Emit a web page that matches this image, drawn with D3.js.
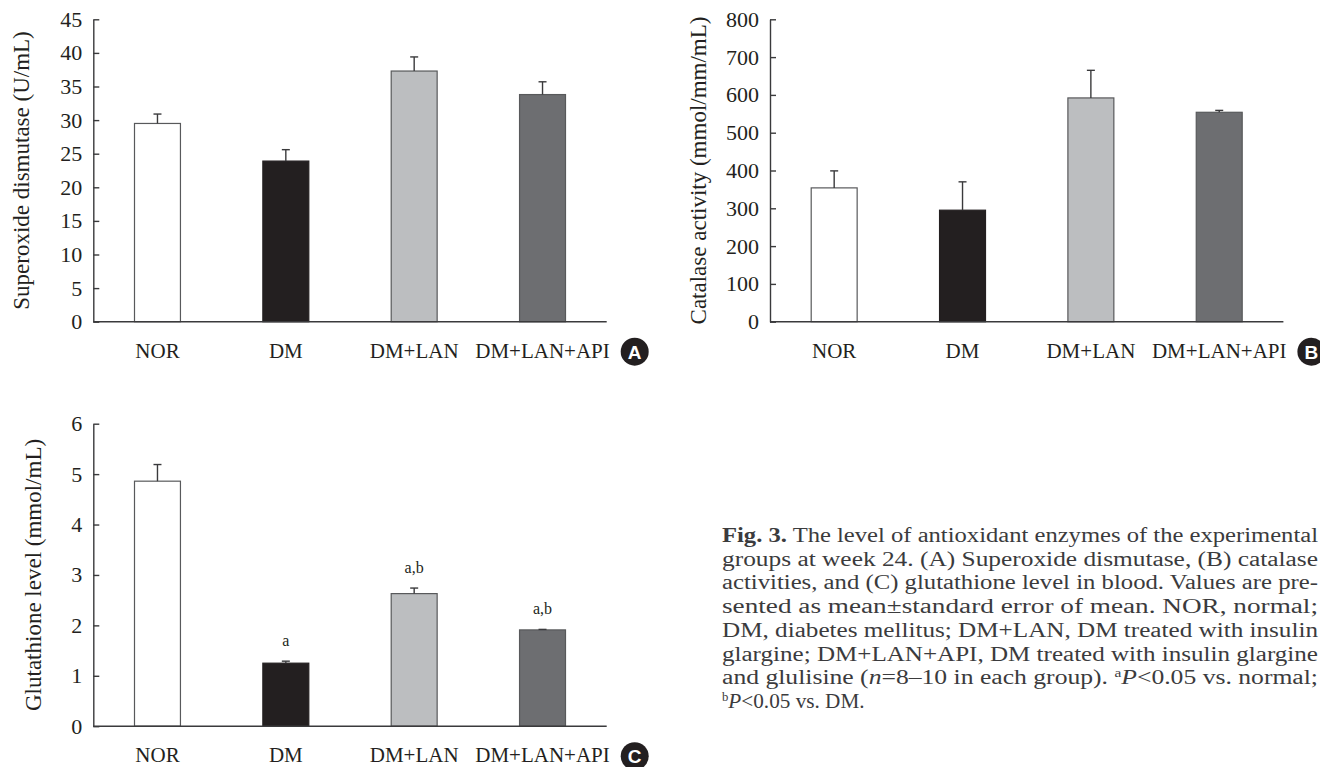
<!DOCTYPE html>
<html>
<head>
<meta charset="utf-8">
<title>Fig. 3 antioxidant enzymes</title>
<style>
  html, body { margin: 0; padding: 0; background: #fff; }
  svg { display: block; font-family: "Liberation Serif", "Times New Roman", serif; }
  .axis path, .axis line { stroke: #3a3a3c; stroke-width: 1.4px; }
  .axis text { fill: #231f20; font-size: 22px; font-family: "Liberation Serif", serif; }
  .xaxis text { font-size: 21px; }
  .ytitle { fill: #231f20; font-size: 23px; text-anchor: middle; }
  .sig { fill: #231f20; font-size: 16px; text-anchor: middle; }
  .caption { fill: #3b3b3d; font-size: 20px; }
</style>
</head>
<body>
<svg width="1320" height="767"></svg>
<script src="https://d3js.org/d3.v7.min.js"></script>
<script>
// groups and bar colours
const groups = ['NOR', 'DM', 'DM+LAN', 'DM+LAN+API'];
const fills = ['#ffffff', '#231f20', '#bcbec0', '#6d6e71'];

// (A) superoxide dismutase, U/mL
const sodMean = [29.5, 23.9, 37.3, 33.8];
const sodErr = [1.4, 1.7, 2.1, 1.9];
const sodTicks = [0, 5, 10, 15, 20, 25, 30, 35, 40, 45];

// (B) catalase activity
const catMean = [354, 295, 592, 554];
const catErr = [45, 75, 73, 5];
const catTicks = [0, 100, 200, 300, 400, 500, 600, 700, 800];

// (C) glutathione level
const gshMean = [4.86, 1.25, 2.63, 1.91];
const gshErr = [0.33, 0.04, 0.11, 0.01];
const gshSig = ['', 'a', 'a,b', 'a,b'];
const gshTicks = [0, 1, 2, 3, 4, 5, 6];

const captionLines = [
  [['Fig. 3.', 'bold'], [' The level of antioxidant enzymes of the experimental']],
  [['groups at week 24. (A) Superoxide dismutase, (B) catalase']],
  [['activities, and (C) glutathione level in blood. Values are pre-']],
  [['sented as mean\u00b1standard error of mean. NOR, normal;']],
  [['DM, diabetes mellitus; DM+LAN, DM treated with insulin']],
  [['glargine; DM+LAN+API, DM treated with insulin glargine']],
  [['and glulisine ('], ['n', 'italic'], ['=8\u201310 in each group). '], ['a', 'sup'], ['P', 'italic'], ['<0.05 vs. normal;']],
  [['b', 'sup'], ['P', 'italic'], ['<0.05 vs. DM.']]
];

const svg = d3.select('svg');

function drawPanel(p) {
  const g = svg.append('g');
  const x = d3.scaleBand().domain(groups)
    .range([p.left, p.right]).paddingInner(0.642).paddingOuter(0.321);
  const y = d3.scaleLinear().domain([0, p.max]).range([p.bottom, p.top]);

  // bars
  g.selectAll('rect.bar').data(groups).enter().append('rect')
    .attr('class', 'bar')
    .attr('x', d => x(d))
    .attr('width', x.bandwidth())
    .attr('y', (d, i) => y(p.mean[i]))
    .attr('height', (d, i) => y(0) - y(p.mean[i]))
    .attr('fill', (d, i) => fills[i])
    .attr('stroke', (d, i) => i === 1 ? '#231f20' : '#58595b')
    .attr('stroke-width', 1.2);

  // upper error bars
  const eb = g.selectAll('g.err').data(groups).enter().append('g').attr('class', 'err')
    .attr('stroke', '#3a3a3c').attr('stroke-width', 1.4);
  eb.append('line')
    .attr('x1', d => x(d) + x.bandwidth() / 2).attr('x2', d => x(d) + x.bandwidth() / 2)
    .attr('y1', (d, i) => y(p.mean[i])).attr('y2', (d, i) => y(p.mean[i] + p.err[i]));
  eb.append('line')
    .attr('x1', d => x(d) + x.bandwidth() / 2 - 4).attr('x2', d => x(d) + x.bandwidth() / 2 + 4)
    .attr('y1', (d, i) => y(p.mean[i] + p.err[i])).attr('y2', (d, i) => y(p.mean[i] + p.err[i]));

  // significance letters
  if (p.sig) {
    g.selectAll('text.sig').data(groups).enter().append('text')
      .attr('class', 'sig')
      .attr('x', d => x(d) + x.bandwidth() / 2)
      .attr('y', (d, i) => y(p.mean[i] + p.err[i]) - 15)
      .text((d, i) => p.sig[i]);
  }

  // y axis, ticks pointing inward
  g.append('g').attr('class', 'axis')
    .attr('transform', `translate(${p.left},0)`)
    .call(d3.axisLeft(y).tickValues(p.ticks).tickFormat(d3.format('d'))
      .tickSizeInner(-6).tickSizeOuter(0).tickPadding(11));

  // x axis
  g.append('g').attr('class', 'axis xaxis')
    .attr('transform', `translate(0,${p.bottom})`)
    .call(d3.axisBottom(x).tickSize(0).tickPadding(21))
    .call(a => a.select('.domain').attr('d', `M${p.left},0H${p.right}`));

  // y title
  g.append('text').attr('class', 'ytitle')
    .attr('transform', `translate(${p.left - p.titleOff},${(p.top + p.bottom) / 2}) rotate(-90)`)
    .text(p.title);

  // panel badge
  const bx = p.right + 28, by = p.bottom + 30;
  g.append('circle').attr('cx', bx).attr('cy', by).attr('r', 14).attr('fill', '#231f20');
  g.append('text').attr('x', bx).attr('y', by + 7)
    .attr('text-anchor', 'middle').attr('fill', '#fff')
    .attr('font-family', '"Liberation Sans", Arial, sans-serif')
    .attr('font-weight', 'bold').attr('font-size', 19)
    .text(p.badge);
}

drawPanel({ left: 93.3, right: 606.7, top: 19.3, bottom: 321.7, max: 45,
  mean: sodMean, err: sodErr, ticks: sodTicks, titleOff: 64,
  title: 'Superoxide dismutase (U/mL)', badge: 'A' });

drawPanel({ left: 770, right: 1283.4, top: 19.3, bottom: 321.7, max: 800,
  mean: catMean, err: catErr, ticks: catTicks, titleOff: 64,
  title: 'Catalase activity (mmol/mm/mL)', badge: 'B' });

drawPanel({ left: 93.3, right: 606.7, top: 423.7, bottom: 726.2, max: 6,
  mean: gshMean, err: gshErr, ticks: gshTicks, sig: gshSig, titleOff: 52,
  title: 'Glutathione level (mmol/mL)', badge: 'C' });

// caption, justified lines kept inside the right edge
const capLeft = 722, capWidth = 596, capTop = 542, capStep = 23.7;
captionLines.forEach((parts, li) => {
  const t = svg.append('text').attr('class', 'caption')
    .attr('x', capLeft).attr('y', capTop + li * capStep);
  parts.forEach(([s, style]) => {
    const ts = t.append('tspan').text(s);
    if (style === 'bold') ts.attr('font-weight', 'bold');
    if (style === 'italic') ts.attr('font-style', 'italic');
    if (style === 'sup') ts.attr('font-size', 12).attr('baseline-shift', '7');
  });
  const w = t.node().getComputedTextLength();
  const target = li < captionLines.length - 1 ? capWidth : w * 1.06;
  t.attr('textLength', target).attr('lengthAdjust', 'spacingAndGlyphs');
});
</script>
</body>
</html>
